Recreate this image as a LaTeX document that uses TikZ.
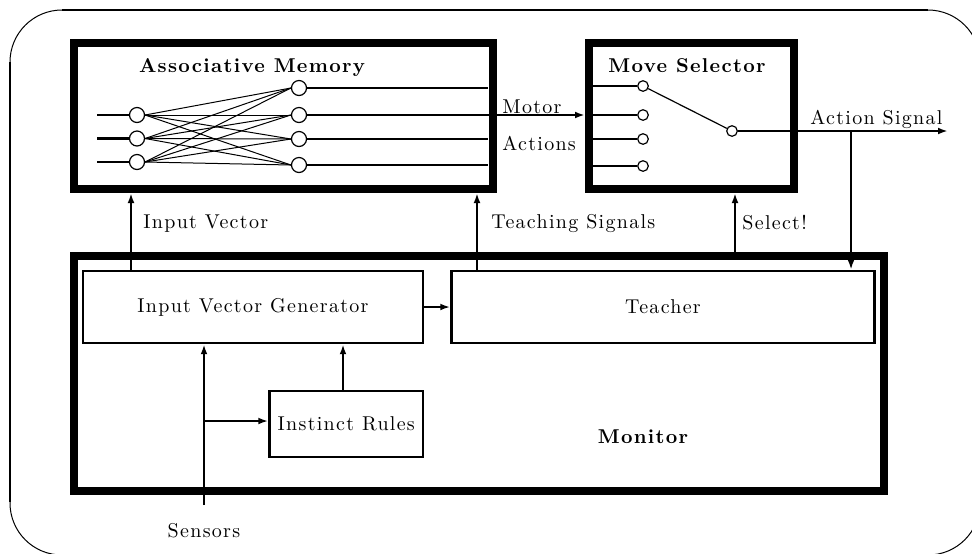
\documentclass[tikz,border=0pt]{standalone}
\usepackage{fontspec}
\usetikzlibrary{arrows.meta}
% Latin Modern with a little extra tracking
\newfontfamily\spacedlm{lmroman10-regular.otf}[BoldFont=lmroman10-bold.otf,LetterSpace=6.5]
\newcommand{\lblfont}{\spacedlm\fontsize{10}{12}\selectfont}
\newcommand{\hdrfont}{\spacedlm\fontsize{10}{12}\selectfont\bfseries}
\begin{document}
\begin{tikzpicture}[x=0.5pt,y=-0.5pt,font=\lblfont,
  bigbox/.style={draw,line width=4pt,inner sep=0pt},
  smallbox/.style={draw,line width=1.2pt,inner sep=0pt},
  neuron/.style={circle,draw,fill=white,line width=0.6pt,minimum size=7.5pt,inner sep=0pt},
  pin/.style={circle,draw,fill=white,line width=0.6pt,minimum size=5.3pt,inner sep=0pt},
  wire/.style={line width=1.2pt},
  link/.style={line width=0.5pt},
  arr/.style={line width=1.3pt,-{Latex[length=5pt,width=3.4pt]}},
  lbl/.style={anchor=base west,inner sep=0pt},
  hdr/.style={anchor=base,inner sep=0pt,font=\hdrfont}]

\useasboundingbox (0,0) rectangle (972,553);
\clip (0,0) rectangle (972,553);

% outer rounded frame
\draw[line width=0.5pt,rounded corners=26pt] (10,10) rectangle (980,555);
\draw[line width=1.4pt] (10,62) -- (10,502);
\draw[line width=1pt] (62,10) -- (928,10);

% main blocks
\node[bigbox,minimum width=209.25pt,minimum height=73pt] (am) at (283.25,116) {};
\node[bigbox,minimum width=102.5pt,minimum height=73pt] (ms) at (691.5,116) {};
\node[bigbox,minimum width=405pt,minimum height=117.5pt] (mon) at (479,373.5) {};

\node[smallbox,minimum width=170pt,minimum height=36pt] (ivg) at (253,307) {Input Vector Generator};
\node[smallbox,minimum width=211.5pt,minimum height=36pt] (tch) at (663,307) {Teacher};
\node[smallbox,minimum width=76.75pt,minimum height=33pt] (ir) at (346.25,424) {Instinct Rules};

% titles
\node[hdr] (amt) at (252,72) {Associative Memory};
\node[hdr] (mst) at (687,72) {Move Selector};
\node[hdr] (mont) at (643,443) {Monitor};

% associative memory network
\node[neuron] (i1) at (137,115) {};
\node[neuron] (i2) at (137,138.5) {};
\node[neuron] (i3) at (137,162) {};
\node[neuron] (o1) at (299,88) {};
\node[neuron] (o2) at (299,115) {};
\node[neuron] (o3) at (299,139) {};
\node[neuron] (o4) at (299,165) {};
\foreach \i in {1,2,3}{
  \coordinate (in\i) at (97,0);
  \draw[wire] (in\i |- i\i) -- (i\i.west);
  \foreach \o in {1,2,3,4}{
    \draw[link] (i\i.east) -- (o\o.west);
  }
}
\coordinate (amin) at (488,0);
\draw[wire] (o1.east) -- (o1 -| amin);
\draw[wire] (o3.east) -- (o3 -| amin);
\draw[wire] (o4.east) -- (o4 -| amin);
% motor actions into the move selector
\draw[arr] (o2.east) -- (o2 -| ms.west);
\node[lbl] (mot) at (502,113) {Motor};
\node[lbl] (act) at (502,150) {Actions};

% move selector switch
\node[pin] (s1) at (643,86) {};
\node[pin] (s2) at (643,115) {};
\node[pin] (s3) at (643,139) {};
\node[pin] (s4) at (643,166) {};
\node[pin] (sw) at (732,131) {};
\coordinate (msin) at (593,0);
\foreach \s in {1,2,3,4}{
  \draw[wire] (s\s -| msin) -- (s\s.west);
}
\draw[link,line width=0.6pt] (s1) -- (sw);

% action signal
\coordinate (actend) at (948,131);
\coordinate (abr) at (851,131);
\draw[wire,-{Latex[length=5pt,width=3.4pt]}] (sw.east) -- (actend);
\node[lbl] (actl) at (810,124) {Action Signal};
\draw[arr] (abr) -- (abr |- tch.north);

% signals between monitor and upper blocks
\coordinate (ivx) at (131,0);
\coordinate (tsx) at (477,0);
\coordinate (selx) at (735,0);
\draw[arr] (ivg.north -| ivx) -- (am.south -| ivx);
\draw[arr] (tch.north -| tsx) -- (am.south -| tsx);
\draw[arr] (mon.north -| selx) -- (ms.south -| selx);
\node[lbl] (ivl) at (143,228) {Input Vector};
\node[lbl] (tsl) at (491,228) {Teaching Signals};
\node[lbl] (sell) at (742,229) {Select!};

% inside the monitor
\draw[arr] (ivg.east) -- (tch.west);
\coordinate (sens) at (204,505);
\coordinate (sbr) at (204,421);
\coordinate (irx) at (343,0);
\draw[arr] (sens) -- (sens |- ivg.south);
\draw[arr] (sbr) -- (sbr -| ir.west);
\draw[arr] (ir.north -| irx) -- (irx |- ivg.south);
\node[anchor=base,inner sep=0pt] (sensl) at (204,537) {Sensors};

\end{tikzpicture}
\end{document}
